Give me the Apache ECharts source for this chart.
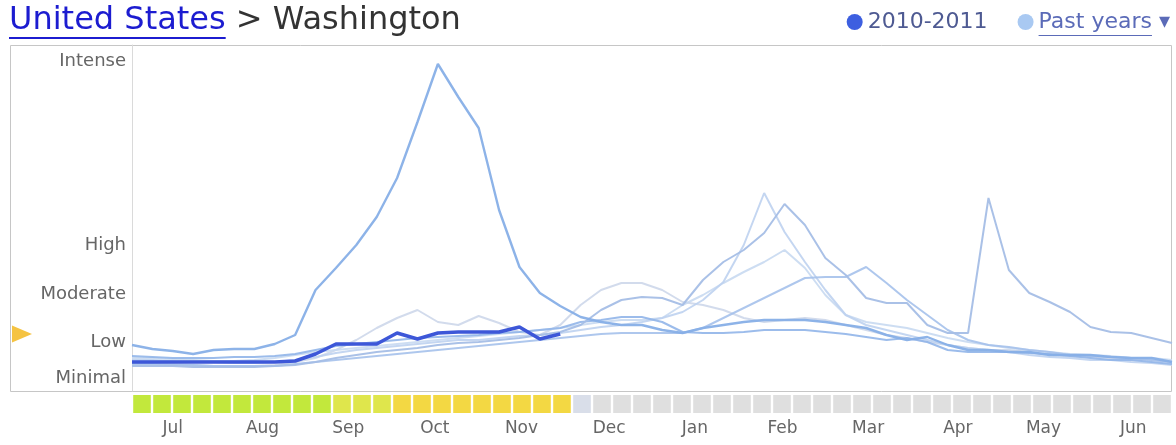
<!DOCTYPE html>
<html>
<head>
<meta charset="utf-8">
<script src="https://cdn.jsdelivr.net/npm/echarts@6/dist/echarts.min.js"></script>
<style>html,body{margin:0;padding:0;background:#fff;}#chart{width:1176px;height:445px;}</style>
</head>
<body>
<div id="chart"></div>
<script>
// ---- data (weekly index, week 0 = first week of July) ----
const levelNames = ['Minimal', 'Low', 'Moderate', 'High', 'Intense'];
const levelValues = [13, 49, 97, 146, 330];
const monthNames = ['Jul','Aug','Sep','Oct','Nov','Dec','Jan','Feb','Mar','Apr','May','Jun'];
const monthPos = [2.0, 6.4, 10.6, 14.85, 19.1, 23.4, 27.6, 31.9, 36.1, 40.5, 44.7, 49.1];

const current = [29,29,29,29,29,29,29,29,30,37,47,47,47,58,52,58,59,59,59,64,52,57];

const pastA = [46,42,40,37,41,42,42,47,56,101,123,146,174,213,269,327,294,263,181,124,98,85,74,69,66,66,61,58,63,66,69,71,71,71,69,66,63,56,51,54,46,41,41,39,39,36,36,36,34,33,33,29];
const pastB = [25,25,25,24,24,24,24,25,26,29,33,36,39,41,43,46,48,49,51,53,56,59,66,81,91,94,93,86,111,129,141,158,187,166,133,116,93,88,88,66,58,58,193,121,98,89,79,64,59,58,53,48];
const pastC = [31,31,30,29,29,28,28,29,31,34,38,41,43,45,47,49,51,51,53,55,56,58,61,64,66,69,73,79,91,109,146,198,159,129,101,76,66,61,56,51,46,43,41,39,36,34,33,31,31,29,28,26];
const pastD = [29,28,27,26,25,25,25,26,29,33,41,51,63,73,81,69,66,75,68,59,56,66,86,101,108,108,101,89,86,81,73,69,71,73,71,66,61,56,53,49,46,43,41,41,39,36,35,34,33,31,31,29];
const pastE = [27,27,26,26,25,25,25,25,27,29,31,33,35,37,39,41,43,45,47,49,51,53,55,57,58,58,58,58,63,73,83,93,103,113,114,114,124,108,91,76,61,51,46,44,41,39,36,35,34,33,31,29];
const pastF = [33,33,32,31,30,30,31,33,36,39,41,43,45,47,49,51,53,55,57,59,61,63,66,69,71,71,73,86,96,108,119,129,141,123,96,76,69,66,63,58,53,49,46,43,41,39,37,36,35,33,33,31];
const pastG = [35,34,33,33,33,34,34,35,37,41,45,47,49,51,53,54,55,56,58,59,61,63,69,71,74,74,69,59,58,58,59,61,61,61,59,57,54,51,53,49,41,39,39,39,38,37,35,33,31,31,29,27];

const pastSeries = [
  {data: pastD, color: 'rgba(205,215,234,0.9)', width: 2},
  {data: pastF, color: 'rgba(200,217,241,0.9)', width: 2},
  {data: pastC, color: 'rgba(190,209,239,0.9)', width: 2},
  {data: pastE, color: 'rgba(165,193,235,0.9)', width: 2},
  {data: pastG, color: 'rgba(145,181,233,0.9)', width: 2.2},
  {data: pastB, color: 'rgba(165,190,230,0.95)', width: 2},
  {data: pastA, color: 'rgba(135,175,231,0.95)', width: 2.4}
];

const WEEKS = 52;

// ---- helpers ----
const mctx = document.createElement('canvas').getContext('2d');
function textWidth(t, font) { mctx.font = font; return mctx.measureText(t).width; }
function stripColor(i) {
  if (i < current.length) {
    const v = current[i];
    if (v < 40) return '#c2e83c';
    if (v < 50) return '#dfe64c';
    return '#f3d843';
  }
  if (i === current.length) return '#d9dee9';
  return '#dfdfdf';
}

const FONT = "'DejaVu Sans', Verdana, sans-serif";
const chart = echarts.init(document.getElementById('chart'), null, {renderer: 'canvas'});

const series = [];
pastSeries.forEach(p => {
  series.push({
    name: 'Past years', type: 'line', xAxisIndex: 0, yAxisIndex: 0,
    data: p.data.map((v, i) => [i, v]),
    showSymbol: false, symbol: 'none',
    lineStyle: {color: p.color, width: p.width}, itemStyle: {color: p.color},
    z: 2, animation: false
  });
});
series.push({
  name: '2010-2011', type: 'line', xAxisIndex: 0, yAxisIndex: 0,
  data: current.map((v, i) => [i, v]),
  showSymbol: false, symbol: 'none',
  lineStyle: {color: '#3d57d8', width: 3.5}, itemStyle: {color: '#3d57d8'},
  z: 5, animation: false,
  markPoint: {
    silent: true, animation: false,
    data: [{coord: [0, current[current.length - 1]], symbol: 'triangle', symbolSize: [17, 20], symbolRotate: -90, symbolOffset: [-110, 0], itemStyle: {color: '#f5c342'}, label: {show: false}}]
  }
});
series.push({
  type: 'bar', xAxisIndex: 1, yAxisIndex: 1,
  data: Array.from({length: WEEKS}, (_, i) => ({value: 1, itemStyle: {color: stripColor(i)}})),
  barCategoryGap: '12%', silent: true, animation: false
});

const titleFont = "32px 'DejaVu Sans'";
const usW = textWidth('United States', titleFont);
const legFont = "22px 'DejaVu Sans'";
const pastW = textWidth('Past years ▾', legFont);
const arrowW = textWidth(' ▾', legFont);

chart.setOption({
  animation: false,
  title: {
    left: 9, top: 5, padding: 0,
    text: '{a|United States}{b| > Washington}',
    textStyle: {
      fontWeight: 'normal',
      rich: {
        a: {color: '#1c1cd0', fontSize: 32, fontFamily: FONT, fontWeight: 'normal'},
        b: {color: '#333333', fontSize: 32, fontFamily: FONT, fontWeight: 'normal'}
      }
    }
  },
  legend: {
    right: 6, top: 11, padding: 0, itemGap: 30,
    icon: 'circle', itemWidth: 16, itemHeight: 16,
    selectedMode: false,
    data: [
      {name: '2010-2011', itemStyle: {color: '#3d5fe0'}, textStyle: {color: '#4e5a92'}},
      {name: 'Past years', itemStyle: {color: '#a9c9f2'}, textStyle: {color: '#5b6bb8'}}
    ],
    formatter: n => n === 'Past years' ? 'Past years ▾' : n,
    textStyle: {fontSize: 22, fontFamily: FONT}
  },
  graphic: [
    {type: 'rect', z: 0, shape: {x: 10.5, y: 45.5, width: 1161, height: 346}, style: {fill: 'none', stroke: '#c6c6c6', lineWidth: 1}},
    {type: 'rect', z: 10, shape: {x: 9, y: 37, width: usW, height: 2}, style: {fill: '#1c1cd0'}},
    {type: 'rect', z: 10, shape: {x: 1170 - pastW, y: 35, width: pastW - arrowW, height: 1}, style: {fill: '#5b6bb8'}}
  ],
  grid: [
    {left: 132, right: 4, top: 45, bottom: 54},
    {left: 132, right: 4, top: 395, height: 18}
  ],
  xAxis: [
    {
      type: 'value', gridIndex: 0, min: 0, max: WEEKS - 1,
      axisLine: {show: false}, axisTick: {show: false}, splitLine: {show: false},
      axisLabel: {
        customValues: monthPos, margin: 29,
        formatter: v => { const k = monthPos.indexOf(v); return k >= 0 ? monthNames[k] : ''; },
        color: '#666', fontSize: 17, fontFamily: FONT
      }
    },
    {
      type: 'category', gridIndex: 1, data: Array.from({length: WEEKS}, (_, i) => i),
      show: false
    }
  ],
  yAxis: [
    {
      type: 'value', gridIndex: 0, min: 0, max: 346,
      axisLine: {show: true, lineStyle: {color: '#dadada'}}, axisTick: {show: false}, splitLine: {show: false},
      axisLabel: {
        customValues: levelValues, margin: 6,
        formatter: v => { const k = levelValues.indexOf(v); return k >= 0 ? levelNames[k] : ''; },
        color: '#666', fontSize: 18, fontFamily: FONT
      }
    },
    {type: 'value', gridIndex: 1, min: 0, max: 1, show: false}
  ],
  series: series
});
</script>
</body>
</html>
